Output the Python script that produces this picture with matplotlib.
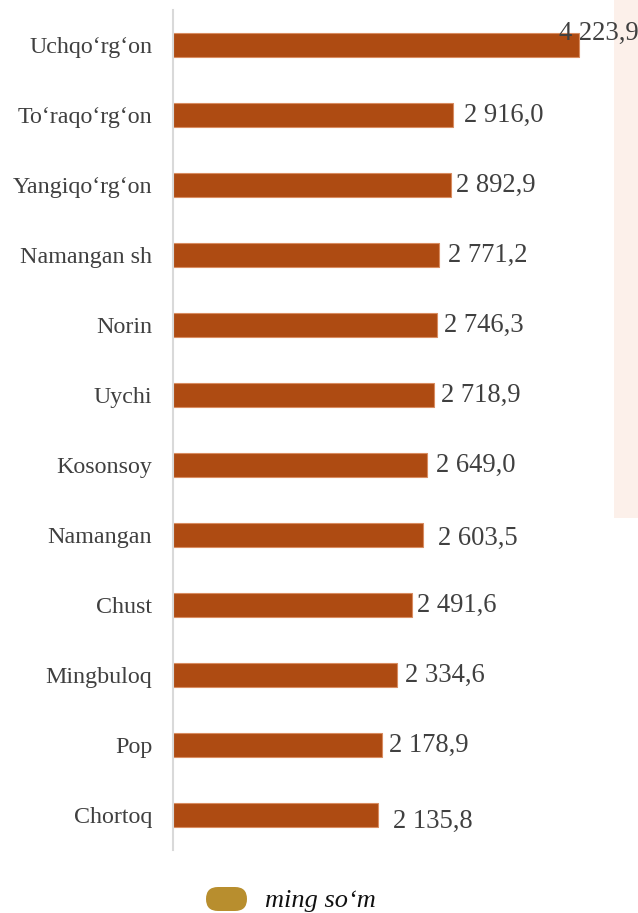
"""Namangan viloyati tumanlari bo'yicha ko'rsatkich (ming so'm), gorizontal ustunli diagramma."""
import matplotlib
matplotlib.use("Agg")
import matplotlib.pyplot as plt
from matplotlib.patches import FancyBboxPatch, Rectangle

plt.rcParams["font.family"] = ["Liberation Serif", "DejaVu Serif"]

districts = ["Uchqo‘rg‘on", "To‘raqo‘rg‘on", "Yangiqo‘rg‘on", "Namangan sh",
             "Norin", "Uychi", "Kosonsoy", "Namangan", "Chust", "Mingbuloq",
             "Pop", "Chortoq"]
values = [4223.9, 2916.0, 2892.9, 2771.2, 2746.3, 2718.9, 2649.0, 2603.5,
          2491.6, 2334.6, 2178.9, 2135.8]
legend_label = "ming so‘m"

# qo'lda surilgan yorliqlar (pikselda: x, y)
label_shift = [(-20, 12), (11, 0), (5, 0), (9, 0), (7, 0), (7, 0), (9, 0),
               (15, -3), (5, 0), (8, 0), (7, 0), (15, -6)]

BAR = "#AE4B12"
EDGE = "#D98C60"
LEGEND = "#B88E2E"
TEXT = "#404040"

W, H = 638, 913
fig = plt.figure(figsize=(W / 100, H / 100), dpi=100)

# o'ng tomondagi och pushti fon bo'lagi
fig.patches.append(Rectangle((614 / W, 1 - 518 / H), 24 / W, 518 / H,
                             transform=fig.transFigure, facecolor="#FCF0EA",
                             edgecolor="none", zorder=-5))

ax = fig.add_axes([173 / W, 63 / H, 442 / W, 840 / H])
ax.set_facecolor("none")
ax.set_zorder(2)

fmt = lambda v: f"{v:,.1f}".replace(",", " ").replace(".", ",")

ypos = list(range(len(districts)))
ax.barh(ypos, values, height=0.34, color=BAR, edgecolor=EDGE, linewidth=0.8)
for y, v, (dx, dy) in zip(ypos, values, label_shift):
    ax.annotate(fmt(v), (v, y), xytext=(dx * 0.72, dy * 0.72),
                textcoords="offset points", ha="left", va="center",
                fontsize=19.2, color=TEXT, zorder=5, annotation_clip=False)

ax.set_ylim(len(districts) - 0.5, -0.5)
ax.set_xlim(0, 442 / 0.09607)
ax.set_yticks(ypos)
ax.set_yticklabels(districts, fontsize=17.3, color=TEXT)
ax.tick_params(axis="y", length=0, pad=15)
ax.set_xticks([])
for s in ["top", "right", "bottom"]:
    ax.spines[s].set_visible(False)
ax.spines["left"].set_color("#D9D9D9")
ax.spines["left"].set_linewidth(1.5)

# legenda
fig.patches.append(FancyBboxPatch((206 / W, 1 - 911 / H), 41 / W, 24 / H,
                                  boxstyle="round,pad=0,rounding_size=0.0188",
                                  transform=fig.transFigure, facecolor=LEGEND,
                                  edgecolor="none", mutation_aspect=W / H))
fig.text(265 / W, 1 - 901 / H, legend_label, fontsize=19, style="italic",
         color="#111111", va="center", ha="left")

fig.savefig("out.png", dpi=100)
